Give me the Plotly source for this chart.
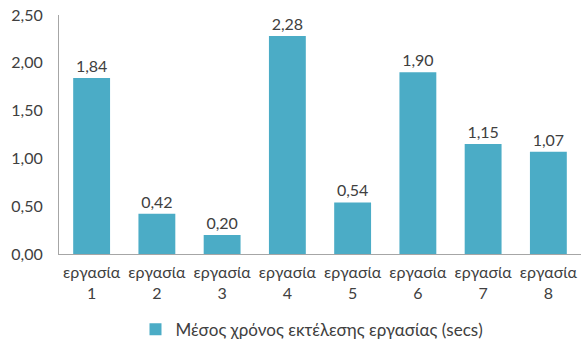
import plotly.graph_objects as go

tasks = ["εργασία 1", "εργασία 2", "εργασία 3", "εργασία 4",
         "εργασία 5", "εργασία 6", "εργασία 7", "εργασία 8"]
values = [1.84, 0.42, 0.20, 2.28, 0.54, 1.90, 1.15, 1.07]
series_name = "Μέσος χρόνος εκτέλεσης εργασίας (secs)"
y_ticks = [0, 0.5, 1.0, 1.5, 2.0, 2.5]
y_tick_labels = ["0,00", "0,50", "1,00", "1,50", "2,00", "2,50"]

# category labels wrapped onto two lines
tick_labels = [t.replace(" ", "<br>") for t in tasks]

bar_color = "#4BACC6"
text_color = "#404040"
font_family = "Lato, 'Open Sans', sans-serif"
font_size = 16

fig = go.Figure()
fig.add_trace(go.Bar(
    x=tasks,
    y=values,
    name=series_name,
    marker=dict(color=bar_color, line=dict(width=0)),
    text=[f"{v:.2f}".replace(".", ",") for v in values],
    textposition="outside",
    textfont=dict(size=font_size, color=text_color, family=font_family),
    cliponaxis=False,
    showlegend=True,
))

fig.update_layout(
    width=581,
    height=340,
    margin=dict(l=59, r=0, t=15, b=86, autoexpand=False),
    paper_bgcolor="white",
    plot_bgcolor="white",
    bargap=0.435,
    font=dict(family=font_family, size=font_size, color=text_color),
    showlegend=True,
    legend=dict(
        orientation="h",
        x=0.537, xanchor="center", xref="container",
        y=0.03, yanchor="middle", yref="container",
        font=dict(size=17, color=text_color, family=font_family),
        itemwidth=30,
    ),
    xaxis=dict(
        type="category",
        tickmode="array",
        tickvals=tasks,
        ticktext=tick_labels,
        showline=True,
        linecolor="#A6A6A6",
        linewidth=1,
        ticks="",
        showgrid=False,
        ticklabelstandoff=4,
        tickfont=dict(size=font_size, color=text_color),
    ),
    yaxis=dict(
        range=[0, 2.5],
        tickvals=y_ticks,
        ticktext=y_tick_labels,
        showline=True,
        linecolor="#A6A6A6",
        linewidth=1,
        showgrid=False,
        zeroline=False,
        ticks="",
        ticklabelstandoff=12,
        tickfont=dict(size=font_size, color=text_color),
    ),
)

fig.write_html("out.html")
